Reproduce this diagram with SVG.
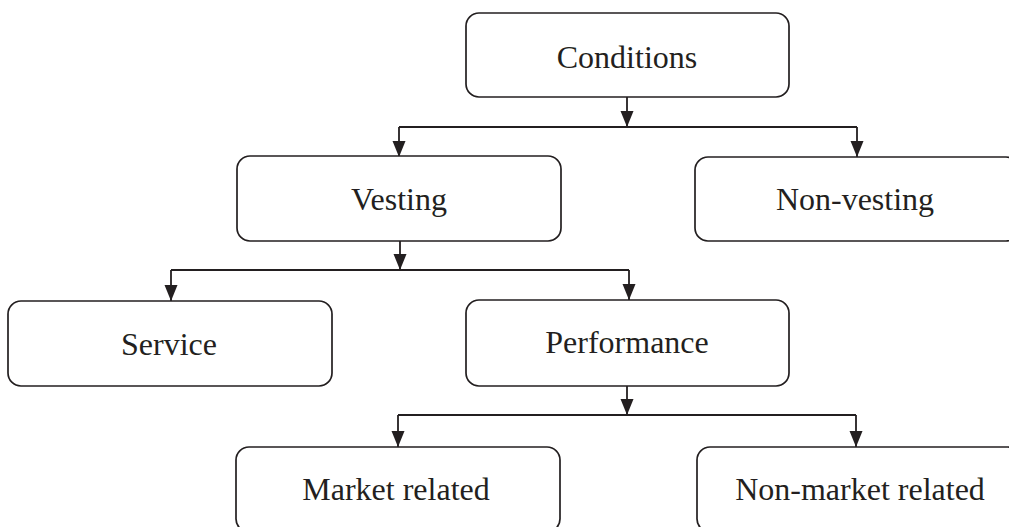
<svg xmlns="http://www.w3.org/2000/svg" width="1009" height="527" viewBox="0 0 1009 527">
<style>
.box{fill:#fff;stroke:#231f20;stroke-width:1.7}
.lbl{font-family:"Liberation Serif","Times New Roman",serif;font-size:32px;fill:#231f20;text-anchor:middle}
.con{fill:none;stroke:#231f20;stroke-width:1.8}
</style>
<defs>
<marker id="ah" markerUnits="userSpaceOnUse" markerWidth="17" markerHeight="14" viewBox="0 0 17 14" refX="16" refY="6.5" orient="auto">
<path d="M0,0 L16,6.5 L0,13 Z" fill="#231f20"/>
</marker>
</defs>
<rect width="1009" height="527" fill="#fff"/>
<g id="connectors">
<path class="con" d="M627,97 V127" marker-end="url(#ah)"/>
<path class="con" d="M399,127 H857"/>
<path class="con" d="M399,127 V157" marker-end="url(#ah)"/>
<path class="con" d="M857,127 V157" marker-end="url(#ah)"/>
<path class="con" d="M400,241 V270" marker-end="url(#ah)"/>
<path class="con" d="M171,270 H629"/>
<path class="con" d="M171,270 V301" marker-end="url(#ah)"/>
<path class="con" d="M629,270 V300" marker-end="url(#ah)"/>
<path class="con" d="M627,386 V415" marker-end="url(#ah)"/>
<path class="con" d="M398,415 H856"/>
<path class="con" d="M398,415 V447" marker-end="url(#ah)"/>
<path class="con" d="M856,415 V447" marker-end="url(#ah)"/>
</g>
<g id="conditions">
<rect class="box" x="466" y="13" width="323" height="84" rx="13"/>
<text class="lbl" x="627" y="68">Conditions</text>
</g>
<g id="vesting">
<rect class="box" x="237" y="156" width="324" height="85" rx="13"/>
<text class="lbl" x="399" y="210">Vesting</text>
</g>
<g id="non-vesting">
<rect class="box" x="695" y="157" width="324" height="84" rx="13"/>
<text class="lbl" x="855" y="210">Non-vesting</text>
</g>
<g id="service">
<rect class="box" x="8" y="301" width="324" height="85" rx="13"/>
<text class="lbl" x="169" y="355">Service</text>
</g>
<g id="performance">
<rect class="box" x="466" y="300" width="323" height="86" rx="13"/>
<text class="lbl" x="627" y="353">Performance</text>
</g>
<g id="market-related">
<rect class="box" x="236" y="447" width="324" height="85" rx="13"/>
<text class="lbl" x="396" y="500">Market related</text>
</g>
<g id="non-market-related">
<rect class="box" x="697" y="447" width="324" height="85" rx="13"/>
<text class="lbl" x="860" y="500">Non-market related</text>
</g>
</svg>
